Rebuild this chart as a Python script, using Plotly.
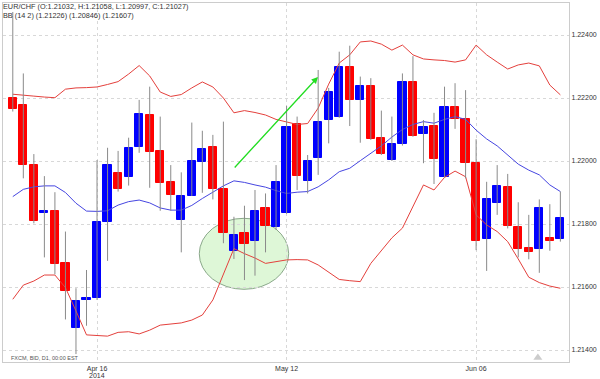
import plotly.graph_objects as go

# ---- data ----
opens = [1.22201, 1.22178, 1.21987, 1.21836, 1.21841, 1.21677, 1.21469, 1.21560, 1.21564, 1.21807,
         1.21963, 1.21950, 1.22045, 1.22146, 1.22031, 1.21932, 1.21812, 1.21890, 1.21997, 1.22045,
         1.21911, 1.21714, 1.21770, 1.21747, 1.21852, 1.21790, 1.21836, 1.22117, 1.21937, 1.22009,
         1.22131, 1.22140, 1.22297, 1.22195, 1.22238, 1.22072, 1.22003, 1.22053, 1.22252, 1.22086,
         1.22112, 1.21950, 1.22171, 1.22132, 1.21995, 1.21752, 1.21866, 1.21918, 1.21791, 1.21723,
         1.21721, 1.21755, 1.21752]
highs = [1.22473, 1.22278, 1.22022, 1.21952, 1.21901, 1.21776, 1.21596, 1.21654, 1.22003, 1.22042,
         1.22032, 1.22074, 1.22194, 1.22236, 1.22141, 1.21987, 1.21964, 1.22122, 1.22096, 1.22083,
         1.22125, 1.21823, 1.21858, 1.21908, 1.21897, 1.21987, 1.22175, 1.22141, 1.22019, 1.22289,
         1.22232, 1.22347, 1.22366, 1.22268, 1.22263, 1.22160, 1.22141, 1.22278, 1.22333, 1.22130,
         1.22153, 1.22236, 1.22247, 1.22225, 1.22069, 1.21934, 1.21987, 1.21959, 1.21869, 1.21829,
         1.21878, 1.21863, 1.21903]
lows = [1.22157, 1.21945, 1.21802, 1.21694, 1.21640, 1.21497, 1.21387, 1.21477, 1.21559, 1.21683,
        1.21903, 1.21922, 1.22026, 1.21915, 1.21842, 1.21842, 1.21710, 1.21889, 1.21899, 1.21878,
        1.21739, 1.21689, 1.21622, 1.21636, 1.21710, 1.21781, 1.21832, 1.21908, 1.21897, 1.21956,
        1.22056, 1.22137, 1.22111, 1.22058, 1.22067, 1.22019, 1.22000, 1.22049, 1.22077, 1.21993,
        1.21927, 1.21948, 1.22102, 1.21945, 1.21717, 1.21651, 1.21829, 1.21786, 1.21694, 1.21688,
        1.21645, 1.21715, 1.21744]
closes = [1.22166, 1.21988, 1.21810, 1.21840, 1.21672, 1.21586, 1.21556, 1.21564, 1.21807, 1.21987,
          1.21910, 1.22041, 1.22149, 1.22030, 1.21929, 1.21892, 1.21889, 1.21999, 1.22037, 1.21911,
          1.21772, 1.21765, 1.21736, 1.21841, 1.21794, 1.21932, 1.22109, 1.21953, 1.22000, 1.22123,
          1.22220, 1.22297, 1.22194, 1.22238, 1.22071, 1.22022, 1.22053, 1.22250, 1.22080, 1.22107,
          1.22007, 1.22170, 1.22132, 1.21995, 1.21746, 1.21878, 1.21921, 1.21795, 1.21720, 1.21712,
          1.21850, 1.21747, 1.21820]

bb_upper = [1.22212, 1.22210, 1.22206, 1.22203, 1.22201, 1.22228, 1.22232, 1.22233, 1.22235, 1.22243,
            1.22252, 1.22276, 1.22303, 1.22270, 1.22219, 1.22205, 1.22211, 1.22232, 1.22251, 1.22235,
            1.22200, 1.22153, 1.22160, 1.22154, 1.22146, 1.22132, 1.22124, 1.22116, 1.22119, 1.22168,
            1.22244, 1.22311, 1.22337, 1.22378, 1.22381, 1.22371, 1.22352, 1.22368, 1.22337, 1.22324,
            1.22321, 1.22319, 1.22314, 1.22321, 1.22368, 1.22337, 1.22314, 1.22292, 1.22305, 1.22311,
            1.22302, 1.22241, 1.22210]
bb_middle = [1.21887, 1.21910, 1.21918, 1.21921, 1.21921, 1.21900, 1.21866, 1.21841, 1.21840, 1.21842,
             1.21860, 1.21871, 1.21876, 1.21867, 1.21851, 1.21844, 1.21844, 1.21859, 1.21881, 1.21902,
             1.21921, 1.21937, 1.21932, 1.21924, 1.21917, 1.21906, 1.21897, 1.21901, 1.21903, 1.21918,
             1.21940, 1.21966, 1.21977, 1.22001, 1.22024, 1.22048, 1.22076, 1.22100, 1.22116, 1.22125,
             1.22120, 1.22132, 1.22141, 1.22132, 1.22098, 1.22070, 1.22048, 1.22019, 1.21990, 1.21971,
             1.21956, 1.21924, 1.21903]
bb_lower = [1.21561, 1.21606, 1.21619, 1.21638, 1.21638, 1.21598, 1.21524, 1.21448, 1.21446, 1.21444,
            1.21456, 1.21458, 1.21451, 1.21463, 1.21479, 1.21482, 1.21486, 1.21495, 1.21511, 1.21559,
            1.21643, 1.21722, 1.21706, 1.21692, 1.21675, 1.21681, 1.21686, 1.21687, 1.21686, 1.21670,
            1.21648, 1.21624, 1.21620, 1.21617, 1.21675, 1.21717, 1.21756, 1.21787, 1.21857, 1.21924,
            1.21908, 1.21948, 1.21968, 1.21950, 1.21829, 1.21797, 1.21776, 1.21744, 1.21689, 1.21631,
            1.21614, 1.21603, 1.21596]

x_tick_idx = [8, 26, 44]
x_tick_text = ["Apr 16", "May 12", "Jun 06"]
year_label = "2014"
year_label_idx = 8
y_tick_vals = [1.214, 1.216, 1.218, 1.220, 1.222, 1.224]

title_line1 = "EUR/CHF (O:1.21032, H:1.21058, L:1.20997, C:1.21027)"
title_line2 = "BB (14 2) (1.21226) (1.20846) (1.21607)"
source_text = "FXCM, BID, D1, 00:00 EST"

# annotation geometry (data coordinates)
arrow_tail = (20.94, 1.219746)
arrow_tip = (28.98, 1.222667)
ellipse_box = (17.71, 26.2, 1.215927, 1.218181)

# ---- figure ----
n = len(opens)
idx = list(range(n))
UP = "#0000ff"
DOWN = "#ff0000"

wx, wy = [], []
for i in idx:
    wx += [i, i, None]
    wy += [lows[i], highs[i], None]

colors = [UP if closes[i] >= opens[i] else DOWN for i in idx]
base = [min(opens[i], closes[i]) for i in idx]
height = [abs(closes[i] - opens[i]) for i in idx]

fig = go.Figure()
fig.add_trace(go.Scatter(x=idx, y=bb_upper, mode="lines",
                         line=dict(color="rgb(228,64,60)", width=1), hoverinfo="skip"))
fig.add_trace(go.Scatter(x=idx, y=bb_lower, mode="lines",
                         line=dict(color="rgb(228,64,60)", width=1), hoverinfo="skip"))
fig.add_trace(go.Scatter(x=idx, y=bb_middle, mode="lines",
                         line=dict(color="rgb(70,70,225)", width=1), hoverinfo="skip"))
fig.add_trace(go.Scatter(x=wx, y=wy, mode="lines",
                         line=dict(color="#8a8a8a", width=1), hoverinfo="skip"))
fig.add_trace(go.Bar(x=idx, y=height, base=base, width=0.78,
                     marker=dict(color=colors, line=dict(color=colors, width=1))))

fig.add_shape(type="circle", xref="x", yref="y",
              x0=ellipse_box[0], x1=ellipse_box[1], y0=ellipse_box[2], y1=ellipse_box[3],
              fillcolor="rgba(190,240,175,0.5)", line=dict(color="#8aa88a", width=1),
              layer="below")

fig.add_annotation(x=arrow_tip[0], y=arrow_tip[1], ax=arrow_tail[0], ay=arrow_tail[1],
                   xref="x", yref="y", axref="x", ayref="y", text="", showarrow=True,
                   arrowhead=2, arrowsize=1, arrowwidth=1.3, arrowcolor="#22dd22")

font = "Liberation Sans, Arial, sans-serif"
fig.add_annotation(xref="paper", yref="paper", x=0, y=1, xanchor="left", yanchor="top",
                   text=title_line1, showarrow=False, xshift=-2, yshift=3,
                   font=dict(family=font, size=7.3, color="#333"))
fig.add_annotation(xref="paper", yref="paper", x=0, y=1, xanchor="left", yanchor="top",
                   text=title_line2, showarrow=False, xshift=-2, yshift=-6,
                   font=dict(family=font, size=7.3, color="#333"))
fig.add_annotation(xref="paper", yref="paper", x=0, y=0, xanchor="left", yanchor="bottom",
                   text=source_text, showarrow=False, xshift=6, yshift=-1,
                   font=dict(family=font, size=5.5, color="#555"))
fig.add_annotation(xref="x", yref="paper", x=year_label_idx, y=0, xanchor="center",
                   yanchor="top", text=year_label, showarrow=False, yshift=-8,
                   font=dict(family=font, size=7, color="#333"))
fig.add_shape(type="path", xref="paper", yref="paper",
              path="M 0.937 0.006 L 0.953 0.006 L 0.945 0.024 Z",
              fillcolor="#cccccc", line=dict(width=0))

fig.update_layout(
    template=None,
    width=600, height=379,
    margin=dict(l=3, r=31, t=3, b=17, pad=0),
    paper_bgcolor="white", plot_bgcolor="white",
    showlegend=False, bargap=0,
    font=dict(family=font, size=7, color="#333"),
)
fig.update_xaxes(range=[-0.93, 52.82], tickvals=x_tick_idx, ticktext=x_tick_text,
                 showgrid=True, gridcolor="#d8d8d8", griddash="dot", gridwidth=1,
                 zeroline=False, showline=True, linecolor="#cccccc", mirror=True,
                 ticks="", ticklen=0, automargin=False,
                 tickfont=dict(size=7, color="#333"))
fig.update_yaxes(range=[1.213619, 1.225016], side="right", tickvals=y_tick_vals,
                 ticktext=[f"{v:.5f}" for v in y_tick_vals],
                 showgrid=True, gridcolor="#d8d8d8", griddash="dot", gridwidth=1,
                 zeroline=False, showline=True, linecolor="#cccccc", mirror=True,
                 ticks="", ticklen=0, automargin=False,
                 tickfont=dict(size=7, color="#333"))

fig.write_html("out.html", config={"displayModeBar": False},
               post_script="document.body.style.margin='0px';")
